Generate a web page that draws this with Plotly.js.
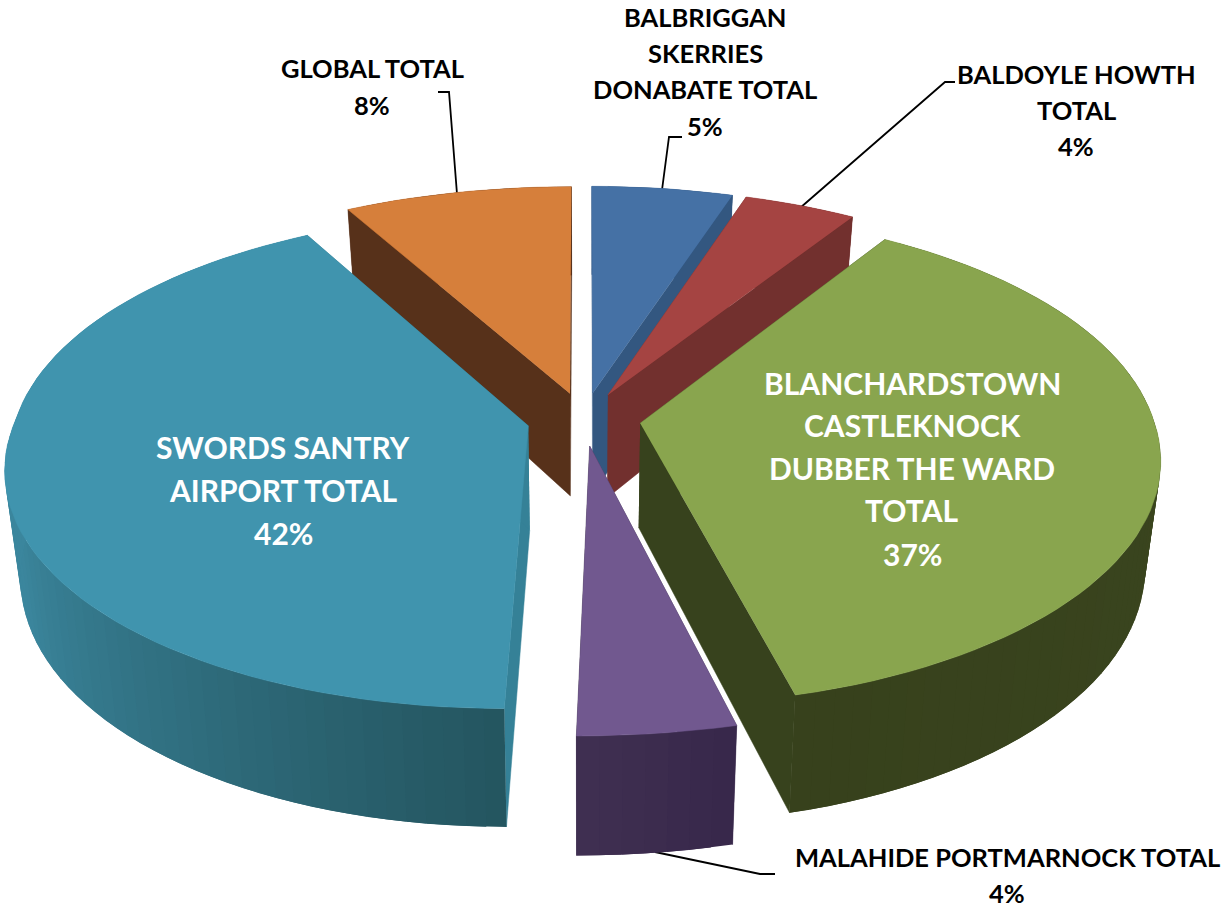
<!DOCTYPE html>
<html><head><meta charset="utf-8">
<script src="https://cdn.plot.ly/plotly-3.0.1.min.js"></script>
<style>html,body{margin:0;padding:0;background:#fff}#c{width:1225px;height:909px}</style>
</head><body><div id="c"></div>
<script>
// Data, clockwise from 12 o'clock
const categories = ["BALBRIGGAN SKERRIES DONABATE TOTAL","BALDOYLE HOWTH TOTAL","BLANCHARDSTOWN CASTLEKNOCK DUBBER THE WARD TOTAL","MALAHIDE PORTMARNOCK TOTAL","SWORDS SANTRY AIRPORT TOTAL","GLOBAL TOTAL"];
const values = [5, 4, 37, 4, 42, 8];
const labelLines = [["BALBRIGGAN","SKERRIES","DONABATE TOTAL"],["BALDOYLE HOWTH","TOTAL"],["BLANCHARDSTOWN","CASTLEKNOCK","DUBBER THE WARD","TOTAL"],["MALAHIDE PORTMARNOCK TOTAL"],["SWORDS SANTRY","AIRPORT TOTAL"],["GLOBAL TOTAL"]];

// Styles
const topColors = ["#4571A5","#A54442","#89A54E","#71588F","#4094AE","#D67F3B"];
const cutColors = ["#335780","#72302E","#37421D","#3E2E50","#358197","#57311A"];
const wallStart = ["#335780","#72302E","#3D4921","#37274A","#24555F","#57311A"]; // at the slice's clockwise start
const wallEnd   = ["#335780","#72302E","#37411C","#403051","#3B869D","#57311A"];
const wallSpan  = [1,1,1,1,0.45,1]; // share of the sweep over which the shade changes
const paintOrder = [5,0,1,4,2,3];
const labelStyle = [
 {x:705,y:[17,53,89,126],c:"#000",s:25.5},
 {x:1076,y:[74,110,146],c:"#000",s:25.5},
 {x:912,y:[383,425,468,510,554],c:"#fff",s:30},
 {x:1007,y:[857,893],c:"#000",s:25.5},
 {x:283,y:[447,490,533],c:"#fff",s:30},
 {x:372,y:[68,105],c:"#000",s:25.5}
];
const leaders = [
 "M662,190 L669,137 L682,137",
 "M800,208 L945,82 L955,82",
 "M655,852 L760,874 L775,874",
 "M457,194 L449,92 L438,92"
];

// Projection of the tilted pie
const C = {cx:584, cy:419, R:513, Rq:241.8, p:0.138, e:0.111, bx:0.973, h0:104, h1:14};
function proj(X, Y, bottom){
  const s = 1/(1 - C.p*Y);
  const k = Math.max(0, Math.min(1, 1 - X/0.4));
  let x = C.cx + C.R*X*s - 15*Math.max(0,Y)*k;
  if(Y<0) x += (X<0 ? 12 : 7)*X*(-Y);
  let y = C.cy + C.Rq*Y*s;
  if(bottom){ x = C.cx + (x-C.cx)*C.bx; y += C.h0 + C.h1*Y; }
  return [x,y];
}
function hex(c){return [1,3,5].map(i=>parseInt(c.substr(i,2),16));}
function mix(a,b,t){const A=hex(a),B=hex(b);return "rgb("+A.map((v,i)=>Math.round(v+(B[i]-v)*t)).join(",")+")";}
function poly(pts,color,name,w){
  return {type:"scatter",mode:"lines",x:pts.map(p=>p[0]),y:pts.map(p=>p[1]),fill:"toself",fillcolor:color,
    line:{color:color,width:w},hoverinfo:"text",text:name,showlegend:false,name:name};
}
const total = values.reduce((a,b)=>a+b,0);
let acc = 0;
const slices = values.map((v,i)=>{
  const a0 = acc/total*2*Math.PI; acc += v; const a1 = acc/total*2*Math.PI;
  const m = (a0+a1)/2;
  return {i,a0,a1,ox:C.e*Math.sin(m),oy:-C.e*Math.cos(m)};
});
const traces = [];
paintOrder.forEach(i=>{
  const S = slices[i], name = categories[i];
  const n = Math.max(4,Math.round((S.a1-S.a0)*180/Math.PI/2));
  const rim = [];
  for(let j=0;j<=n;j++){
    const a = S.a0+(S.a1-S.a0)*j/n;
    rim.push([S.ox+Math.sin(a),S.oy-Math.cos(a)]);
  }
  const apex=[S.ox,S.oy];
  // outer wall as shaded strips; each strip runs on under the next so that no seam shows
  const wall=[];
  for(let j=0;j<n;j++){
    const t=Math.min(1,((j+0.5)/n)/wallSpan[i]);
    const top=[proj(...rim[j]),proj(...rim[j+1])];
    const bot=[proj(...rim[j],true),proj(...rim[j+1],true)];
    if(j+2<=n){top.push(proj(...rim[j+2]));bot.push(proj(...rim[j+2],true));}
    wall.push(poly([...top,...bot.reverse()],mix(wallStart[i],wallEnd[i],t),name,0));
  }
  // cut faces
  const cut=(e)=>poly([proj(...apex),proj(...e),proj(...e,true),proj(...apex,true)],cutColors[i],name,0.5);
  const cuts=[cut(rim[0]),cut(rim[n])];
  // a wall on the viewer's side hides the cut faces; a far wall lies behind them
  if(S.oy>0) traces.push(...cuts,...wall); else traces.push(...wall,...cuts);
  // top face
  traces.push(poly([proj(...apex),...rim.map(r=>proj(...r))],topColors[i],name,0.5));
});

// Labels
const annotations = [];
labelLines.forEach((lines,i)=>{
  const st = labelStyle[i];
  const pct = Math.round(values[i]/total*100)+"%";
  [...lines,pct].forEach((t,j)=>annotations.push({x:st.x,y:st.y[j],xref:"x",yref:"y",text:"<b>"+t+"</b>",showarrow:false,
     xanchor:"center",yanchor:"middle",font:{family:"Lato, Carlito, sans-serif",size:st.s,color:st.c}}));
});
const shapes = leaders.map(p=>({type:"path",path:p,xref:"x",yref:"y",line:{color:"#000",width:1.8},layer:"below"}));

Plotly.newPlot("c",traces,{
  width:1225,height:909,margin:{l:0,r:0,t:0,b:0},paper_bgcolor:"#fff",plot_bgcolor:"#fff",showlegend:false,
  xaxis:{range:[0,1225],visible:false,fixedrange:true},
  yaxis:{range:[909,0],visible:false,fixedrange:true},
  annotations,shapes
},{displayModeBar:false,staticPlot:true});
</script></body></html>
